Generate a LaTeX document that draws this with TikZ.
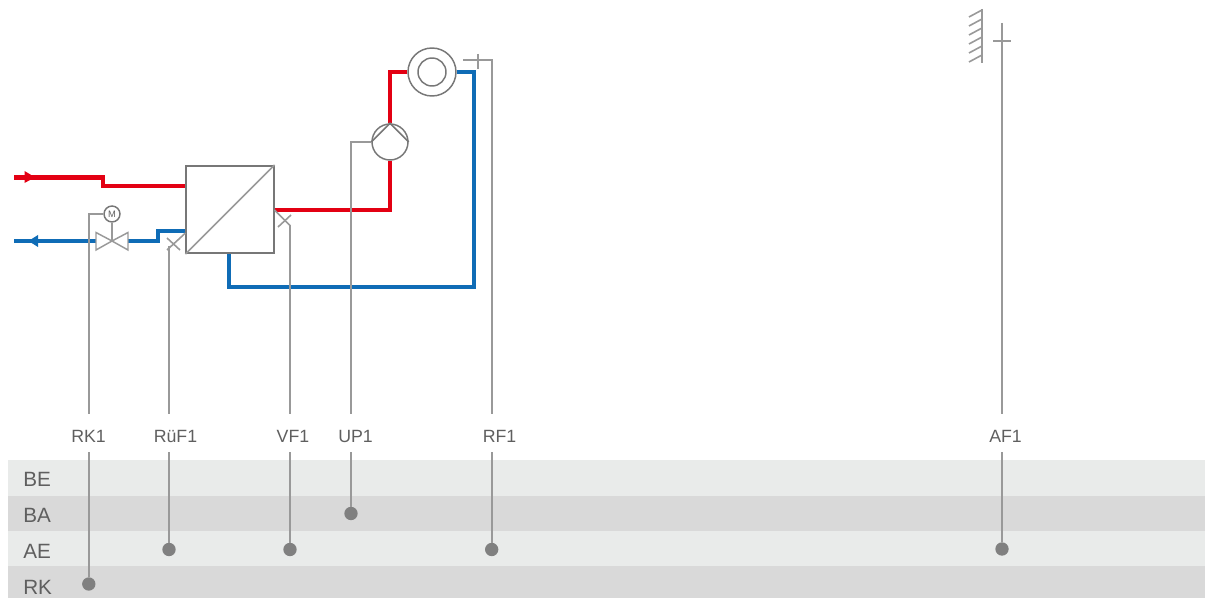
\documentclass[tikz,border=0pt]{standalone}
\usepackage{fontspec}
\setmainfont{Liberation Sans}
\definecolor{hot}{HTML}{E30013}
\definecolor{cold}{HTML}{0F6CB6}
\definecolor{bandA}{HTML}{E9EBEA}
\definecolor{bandB}{HTML}{D9D9D9}
\definecolor{ink}{HTML}{5F5F5F}
\definecolor{wire}{HTML}{999999}
\definecolor{edge}{HTML}{777777}
\definecolor{dotc}{HTML}{808080}
\tikzset{
  hotpipe/.style={draw=hot,line width=3.7pt,line join=miter},
  coldpipe/.style={draw=cold,line width=3pt,line join=miter},
  wireline/.style={draw=wire,line width=1.2pt},
  symline/.style={draw=edge,line width=1.1pt},
  tagtext/.style={text=ink,font=\fontsize{13.3pt}{15pt}\selectfont,inner sep=0pt,text height=21pt,text depth=7.5pt},
  rowtext/.style={text=ink,font=\fontsize{15.5pt}{18pt}\selectfont,inner sep=0pt,anchor=west},
  dotnode/.style={circle,fill=dotc,draw=none,inner sep=0pt,minimum size=10pt},
  roundsym/.style={circle,draw=edge,line width=1.1pt,fill=white,inner sep=0pt},
}
\begin{document}
\begin{tikzpicture}[x=0.75pt,y=-0.75pt]
\useasboundingbox (0,0) rectangle (1205,598);
% bands
\fill[bandA] (8,460) rectangle (1205,495.5);
\fill[bandB] (8,495.5) rectangle (1205,531);
\fill[bandA] (8,531) rectangle (1205,566);
\fill[bandB] (8,566) rectangle (1205,598);
\node[rowtext] (rBE) at (23,479) {BE};
\node[rowtext] (rBA) at (23,515) {BA};
\node[rowtext] (rAE) at (23,551) {AE};
\node[rowtext] (rRK) at (23,587) {RK};
% tags
\node[tagtext] (tRK) at (88.5,433) {RK1};
\node[tagtext] (tRU) at (175.5,433) {RüF1};
\node[tagtext] (tVF) at (293,433) {VF1};
\node[tagtext] (tUP) at (355.5,433) {UP1};
\node[tagtext] (tRF) at (499.5,433) {RF1};
\node[tagtext] (tAF) at (1005.5,433) {AF1};
% dots
\node[dotnode] (dRK) at (88.8,584) {};
\node[dotnode] (dRU) at (169,549.5) {};
\node[dotnode] (dVF) at (290,549.5) {};
\node[dotnode] (dUP) at (351,513.5) {};
\node[dotnode] (dRF) at (491.7,549.5) {};
\node[dotnode] (dAF) at (1002,549) {};
% symbols
\node[draw=edge,line width=1.3pt,fill=white,minimum size=65.5pt,inner sep=0pt] (hx) at (230,209.5) {};
\node[roundsym,minimum size=27pt] (pump) at (390,142) {};
\node[roundsym,minimum size=36pt] (mix) at (432,72) {};
\node[roundsym,minimum size=21pt] (mixin) at (432,72) {};
\node[roundsym,minimum size=12pt,font=\fontsize{7pt}{8pt}\selectfont,text=ink] (mot) at (112,214) {M};
\coordinate (vc) at (112,241);
\coordinate (vl) at (96,241);
\coordinate (vr) at (128,241);
% pipes
\coordinate (redin) at (14,177.3);
\coordinate (bluout) at (14,241);
\draw[hotpipe] (redin) -- (103,177.3) -- (103,186) -- (hx.west |- 0,186);
\draw[hotpipe] (hx.east |- 0,210) -- (390,210) -- (pump.south);
\draw[hotpipe] (pump.north) -- (390,72) -- (mix.west);
\draw[coldpipe] (mix.east) -- (474,72) -- (474,287) -- (229,287) -- (229,254);
\draw[coldpipe] (hx.west |- 0,231) -- (158,231) -- (158,241) -- (vr);
\draw[coldpipe] (vl) -- (bluout);
\fill[hot] (35,177.3) -- (24.5,171) -- (24.5,183) -- cycle;
\fill[cold] (28.5,241) -- (38,235) -- (38,247) -- cycle;
% heat exchanger diagonal
\draw[draw=wire,line width=1.3pt] (hx.south west) -- (hx.north east);
% valve
\draw[symline,draw=wire] (vc) -- (96,232.5) -- (96,250) -- cycle;
\draw[symline,draw=wire] (vc) -- (128,232.5) -- (128,250) -- cycle;
\draw[symline,draw=wire] (mot) -- (vc);
% pump chevron
\draw[symline] (pump.west) -- (pump.north) -- (pump.east);
% sensor crosses
\draw[wireline] (167,238) -- (180,250);
\draw[wireline] (167,250) -- (hx.west |- 0,233);
\draw[wireline] (hx.east |- 0,210) -- (290,225.5);
\draw[wireline] (278,227) -- (291,215);
\draw[wireline] (478,54) -- (478,69);
\draw[wireline] (993,41) -- (1011,41);
% wall
\draw[symline,draw=wire,line width=1.3pt] (982,9) -- (982,63);
\foreach \yy in {10,19,28,37,46,55}
  \draw[wireline] (982,\yy) -- (969,\yy+7);
% connectors, upper parts
\coordinate (sRK) at (88.8,214);
\coordinate (sRU) at (169,246);
\coordinate (sVF) at (290,225);
\coordinate (sUP) at (351,142);
\coordinate (sRF) at (491.7,60);
\coordinate (sAF) at (1002,23);
\draw[wireline] (mot.west) -- (sRK) -- (tRK.north -| sRK);
\draw[wireline] (sRU) -- (tRU.north -| sRU);
\draw[wireline] (sVF) -- (tVF.north -| sVF);
\draw[wireline] (pump.west) -- (sUP) -- (tUP.north -| sUP);
\draw[wireline] (463,60) -- (sRF) -- (tRF.north -| sRF);
\draw[wireline] (sAF) -- (tAF.north -| sAF);
% connectors, lower parts
\draw[wireline] (tRK.south -| dRK) -- (dRK);
\draw[wireline] (tRU.south -| dRU) -- (dRU);
\draw[wireline] (tVF.south -| dVF) -- (dVF);
\draw[wireline] (tUP.south -| dUP) -- (dUP);
\draw[wireline] (tRF.south -| dRF) -- (dRF);
\draw[wireline] (tAF.south -| dAF) -- (dAF);
\end{tikzpicture}
\end{document}
